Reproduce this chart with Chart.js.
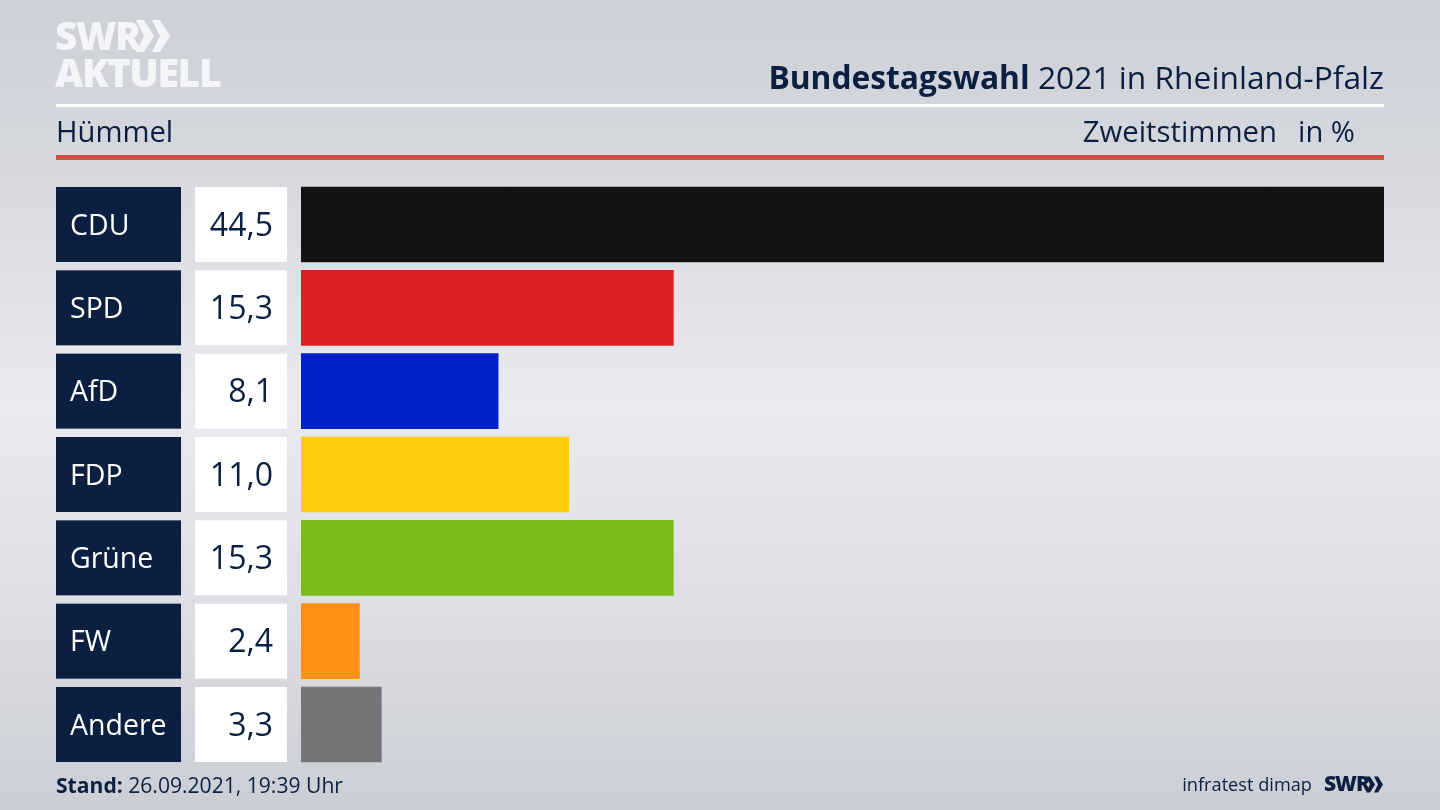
<!DOCTYPE html>
<html lang="de">
<head>
<meta charset="utf-8">
<title>Bundestagswahl 2021 in Rheinland-Pfalz</title>
<script src="https://cdn.jsdelivr.net/npm/chart.js@4"></script>
<style>
  html, body { margin: 0; padding: 0; }
  body {
    width: 1440px; height: 810px; overflow: hidden; position: relative;
    background: linear-gradient(180deg, #ccd0d7 0%, #d6d8de 20%, #e9eaef 50%, #dfe0e5 72%, #cbced5 100%);
    font-family: "Open Sans", sans-serif; color: #0b2040;
  }
  canvas { position: absolute; left: 0; top: 0; }
  .txt { position: absolute; white-space: nowrap; line-height: 1; }
  .rule { position: absolute; left: 56px; width: 1328px; }
  .logo { color: #f4f5f7; font-weight: 800; }
</style>
</head>
<body>
<canvas id="chart" width="1440" height="810"></canvas>

<div class="txt logo" style="left:55px;top:15px;font-size:39px;letter-spacing:-1.5px">SWR</div>
<svg style="position:absolute;left:136px;top:19px" width="36" height="34" viewBox="0 0 36 34">
  <path d="M0 1h8l10 16-10 16H0l8-16zM16 1h8l10 16-10 16h-8l8-16z" fill="#f4f5f7"/>
</svg>
<div class="txt logo" style="left:55px;top:52px;font-size:39px;letter-spacing:-1.3px">AKTUELL</div>

<div class="txt" style="right:56px;top:61px;font-size:31.75px"><b>Bundestagswahl</b> 2021 in Rheinland-Pfalz</div>
<div class="rule" style="top:104px;height:3px;background:#fff"></div>
<div class="txt" style="left:56px;top:117px;font-size:29.2px">Hümmel</div>
<div class="txt" style="right:163px;top:117px;font-size:29.3px">Zweitstimmen</div>
<div class="txt" style="right:85px;top:117px;font-size:29.2px">in %</div>
<div class="rule" style="top:155px;height:5px;background:#cd523f"></div>

<div class="txt" style="left:56px;top:774px;font-size:21.1px"><b>Stand:</b> 26.09.2021, 19:39 Uhr</div>
<div class="txt" style="right:128px;top:775px;font-size:18.2px">infratest dimap</div>
<div class="txt" style="left:1324px;top:773px;font-size:21px;font-weight:800;letter-spacing:-1px">SWR</div>
<svg style="position:absolute;left:1365px;top:776px" width="20" height="17" viewBox="0 0 36 34">
  <path d="M0 1h8l10 16-10 16H0l8-16zM16 1h8l10 16-10 16h-8l8-16z" fill="#0b2040"/>
</svg>

<script>
// values
const parties = ['CDU', 'SPD', 'AfD', 'FDP', 'Grüne', 'FW', 'Andere'];
const shares = [44.5, 15.3, 8.1, 11.0, 15.3, 2.4, 3.3];
const partyColors = ['#121212', '#da2020', '#0021c8', '#ffcc0a', '#7abd1a', '#ff9016', '#757577'];

// draws the navy name box and white value box in front of each bar
// (beforeDraw, so the axis labels land on top of the navy boxes)
const rowBoxes = {
  id: 'rowBoxes',
  beforeDraw(chart) {
    const ctx = chart.ctx;
    const y = chart.scales.y;
    ctx.save();
    parties.forEach((p, i) => {
      const cy = y.getPixelForValue(i);
      ctx.fillStyle = '#0b2040';
      ctx.fillRect(56, cy - 37.5, 125, 75);
      ctx.fillStyle = '#ffffff';
      ctx.fillRect(195, cy - 37.5, 92, 75);
      ctx.fillStyle = '#0b2040';
      ctx.font = '32px "Open Sans", sans-serif';
      ctx.textAlign = 'right';
      ctx.textBaseline = 'middle';
      ctx.fillText(shares[i].toFixed(1).replace('.', ','), 273, cy + 2);
    });
    ctx.restore();
  }
};

new Chart(document.getElementById('chart'), {
  type: 'bar',
  data: {
    labels: parties,
    datasets: [{
      data: shares,
      backgroundColor: partyColors,
      barThickness: 75,
      borderWidth: 0
    }]
  },
  options: {
    indexAxis: 'y',
    responsive: false,
    animation: false,
    layout: { padding: { left: 70, right: 56, top: 182.83, bottom: 43.83 } },
    plugins: { legend: { display: false }, tooltip: { enabled: false } },
    scales: {
      x: { display: false, min: 0, max: 44.5 },
      y: {
        // fixed width so the bars start at the right of the value boxes
        afterFit(scale) { scale.width = 231; },
        grid: { display: false },
        border: { display: false },
        ticks: {
          crossAlign: 'far',
          labelOffset: 2,
          color: '#ffffff',
          font: { family: '"Open Sans", sans-serif', size: 28.5 }
        }
      }
    }
  },
  plugins: [rowBoxes]
});
</script>
</body>
</html>
